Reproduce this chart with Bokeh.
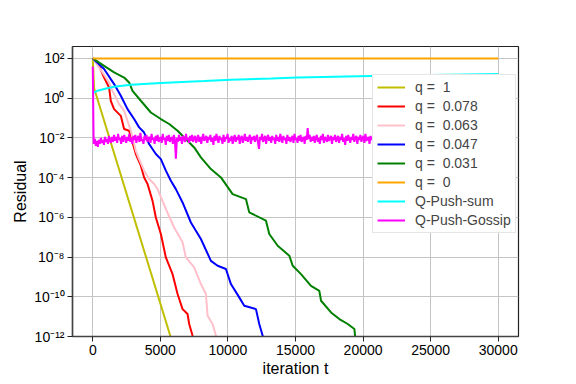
from bokeh.plotting import figure
from bokeh.models import Range1d, FixedTicker, CustomJSTickFormatter, Legend, LegendItem
from bokeh.embed import file_html
from bokeh.resources import INLINE

# ---------------- data ----------------
x_ticks = [0, 5000, 10000, 15000, 20000, 25000, 30000]
y_tick_exponents = [2, 0, -2, -4, -6, -8, -10, -12]

labels = ["q =  1", "q =  0.078", "q =  0.063", "q =  0.047", "q =  0.031",
          "q =  0", "Q-Push-sum", "Q-Push-Gossip"]
colors = ["#bfbf00", "#ff0000", "#ffc0cb", "#0000ff", "#008000",
          "#ffa500", "#00ffff", "#ff00ff"]

# q = 1
q1_t = [0, 100, 5750, 6000]
q1_log = [2.0, 0.5, -12.0, -12.55]

# q = 0.078
q078_t = [0, 467, 837, 1207, 1333, 1578, 2074, 2319, 2689, 3185, 3556, 3800,
          4052, 4422, 4667, 5037, 5407, 5904, 6274, 6644, 7015, 7133, 7385, 7600]
q078_log = [2.0, 1.63, 1.04, 0.54, -0.13, -0.55, -0.89, -1.55, -1.64, -2.81, -3.40, -3.99,
            -4.32, -5.17, -6.01, -6.84, -8.02, -8.86, -9.86, -10.62, -10.87, -11.37, -11.96, -12.4]

# q = 0.063
q063_t = [0, 719, 1207, 1459, 1948, 2319, 2570, 2815, 3185, 3430, 3800, 4170,
          4541, 4793, 5407, 6022, 6644, 6889, 7504, 8000, 8370, 8496, 8867, 9111, 9300]
q063_log = [2.0, 1.30, 0.79, 0.37, -0.30, -0.63, -1.14, -1.64, -2.65, -3.07, -3.65, -4.07,
            -4.32, -4.58, -5.58, -6.51, -7.26, -8.02, -8.52, -9.36, -9.86, -10.96, -11.37, -11.96, -12.4]

# q = 0.047
q047_t = [0, 837, 1333, 1578, 2074, 2570, 3059, 3430, 3800, 4170, 4667, 5037,
          5407, 5778, 6148, 6644, 7259, 8000, 8741, 9237, 9852, 10222, 10837,
          11207, 12074, 12319, 12570, 12750]
q047_log = [2.0, 1.47, 0.96, 0.71, 0.12, -0.55, -1.05, -1.47, -1.73, -2.31, -2.81, -3.07,
            -3.65, -4.16, -4.58, -5.25, -6.26, -7.09, -8.19, -8.44, -8.60, -9.36, -10.03,
            -10.45, -10.62, -11.37, -11.96, -12.4]

# q = 0.031
q031_t = [0, 837, 1578, 2319, 2689, 2941, 3556, 4296, 5037, 5652, 6274, 6763,
          7504, 8000, 8741, 9481, 10348, 11333, 11578, 12815, 13059, 13681, 14541,
          14793, 15407, 16148, 16763, 16889, 17630, 18244, 18867, 19356, 19407, 19450]
q031_log = [2.0, 1.63, 1.30, 1.04, 0.79, 0.37, -0.13, -0.72, -1.05, -1.30, -1.64, -1.98,
            -2.48, -2.98, -3.57, -3.99, -4.83, -5.08, -5.75, -6.17, -6.84, -7.43, -7.93,
            -8.44, -8.86, -9.45, -9.70, -10.20, -10.79, -11.12, -11.37, -11.62, -11.96, -12.4]

# q = 0
q0_t = [0, 30000]
q0_log = [2.0, 2.0]

# Q-Push-sum
sum_t = [0, 300, 837, 1578, 2815, 5037, 8244, 10222, 13200, 15160, 20600, 25000, 30000]
sum_log = [0.26, 0.36, 0.46, 0.58, 0.68, 0.76, 0.86, 0.93, 0.99, 1.04, 1.12, 1.17, 1.22]

# Q-Push-Gossip (noisy plateau around 1e-2), samples every 75 iterations
gossip_head_t = [0, 60]
gossip_head_log = [1.6, -2.0]
gossip_band_log = [
    -2.3, -2.05, -2.4, -2.15, -2.45, -2.1, -2.3, -2.0, -2.25, -2.1, -2.35, -1.95, -2.2, -2.05, -2.3, -1.9, -2.15, -2.25, -1.95, -2.2,
    -1.85, -2.15, -1.95, -2.25, -1.8, -2.1, -2.0, -2.3, -1.9, -2.2, -1.85, -2.05, -2.25, -1.95, -2.15, -1.8, -2.2, -2.0, -2.3, -1.9,
    -2.1, -1.85, -2.25, -2.0, -1.9, -2.2, -1.75, -2.15, -2.05, -2.3, -1.9, -2.1, -1.85, -2.2, -2.0, -1.95, -2.25, -1.8, -2.1, -2.0,
    -2.3, -1.9, -2.15, -1.85, -2.2, -2.05, -1.95, -2.25, -1.8, -2.1, -2.0, -2.35, -1.9, -2.15, -1.85, -2.2, -2.05, -1.95, -2.3, -1.85,
    -2.1, -3.05, -2.0, -2.2, -1.85, -2.15, -1.95, -2.3, -1.9, -2.05, -2.2, -1.8, -2.1, -2.0, -2.25, -1.9, -2.15, -1.85, -2.2, -2.0,
    -1.9, -2.25, -2.05, -1.85, -2.2, -1.95, -2.3, -2.0, -1.8, -2.15, -2.05, -1.9, -2.25, -1.95, -2.1, -1.85, -2.2, -2.0, -2.35, -1.9,
    -2.15, -1.8, -2.05, -2.25, -1.9, -2.1, -2.0, -2.3, -1.85, -2.2, -1.95, -2.05, -1.8, -2.25, -2.0, -2.15, -1.9, -2.3, -2.05, -1.85,
    -2.2, -1.95, -2.1, -1.85, -2.3, -2.0, -1.9, -2.25, -2.05, -1.8, -2.15, -1.95, -2.2, -2.0, -1.85, -2.3, -1.95, -2.1, -1.9, -2.2,
    -2.0, -1.85, -2.25, -2.55, -1.95, -2.1, -1.8, -2.2, -2.05, -1.9, -2.3, -2.0, -1.85, -2.15, -1.95, -2.25, -1.9, -2.1, -2.0, -2.3,
    -1.85, -2.15, -1.95, -2.2, -1.8, -2.05, -2.25, -1.9, -2.1, -2.0, -2.3, -1.85, -2.15, -1.95, -2.2, -2.05, -1.9, -2.25, -1.8, -2.1,
    -2.0, -2.25, -1.9, -2.15, -1.85, -2.2, -2.05, -1.95, -2.3, -1.9, -2.1, -1.5, -2.05, -1.85, -2.2, -1.95, -2.15, -1.9, -2.25, -2.0,
    -1.85, -2.2, -2.0, -2.3, -1.9, -2.1, -1.8, -2.25, -1.95, -2.05, -2.2, -1.85, -2.15, -2.0, -1.9, -2.3, -1.95, -2.1, -1.85, -2.2,
    -2.05, -1.9, -2.25, -1.95, -2.1, -1.8, -2.2, -2.0, -2.35, -1.9, -2.15, -1.85, -2.05, -2.25, -1.95, -2.1, -1.8, -2.2, -2.0, -1.9,
    -2.3, -1.95, -2.1, -1.85, -2.2, -2.0, -1.9, -2.25, -1.8, -2.15, -2.05, -1.95, -2.3, -1.9, -2.1, -2.0, -1.85, -2.2, -1.95, -2.15,
    -1.9, -2.25, -2.0, -1.85, -2.15, -2.05, -2.3, -1.9, -2.1, -1.95, -2.2, -1.8, -2.05, -2.25, -1.9, -2.1, -2.0, -1.85, -2.2, -1.95,
    -2.1, -1.9, -2.25, -2.0, -1.85, -2.2, -1.95, -2.3, -2.05, -1.9, -2.15, -1.85, -2.2, -2.0, -1.95, -2.25, -1.9, -2.1, -1.8, -2.05,
    -2.2, -1.95, -2.1, -1.85, -2.25, -2.0, -1.9, -2.15, -2.05, -2.3, -1.9, -2.1, -1.85, -2.2, -1.95, -2.05, -2.25, -1.9, -2.1, -2.0,
    -1.85, -2.2, -2.0, -2.3, -1.95, -2.1, -1.8, -2.15, -2.05, -1.9, -2.25, -1.95, -2.1, -1.85, -2.2, -2.0, -2.3, -1.9, -2.05, -2.15,
    -1.9, -2.25, -1.95, -2.1, -1.85, -2.2, -2.05, -1.9, -2.3, -2.0, -1.85, -2.15, -1.95, -2.25, -1.9, -2.1, -2.0, -2.2, -1.85, -2.05,
    -2.2, -1.9, -2.1, -1.95, -2.25, -1.85, -2.05, -2.2, -1.9, -2.15, -2.0, -1.8, -2.25, -1.95, -2.1, -2.0, -1.9, -2.2, -2.05, -1.95,
]
gossip_band_step = 75  # iteration spacing of the plotted samples

# ---------------- figure ----------------
FONT = "Liberation Sans"

p = figure(width=576, height=384, output_backend="svg", toolbar_location=None,
           y_axis_type="log",
           x_range=Range1d(-1500, 31500), y_range=Range1d(1e-12, 400),
           min_border_left=72, min_border_right=58, min_border_top=46, min_border_bottom=48)

p.background_fill_color = "white"
p.border_fill_color = "white"
p.outline_line_color = "#222222"
p.outline_line_width = 1.2

def to_vals(logs):
    return [10.0 ** v for v in logs]

gossip_t = gossip_head_t + [gossip_band_step * (i + 1) for i in range(len(gossip_band_log))]
gossip_log = gossip_head_log + gossip_band_log

series = [
    (q1_t, q1_log), (q078_t, q078_log), (q063_t, q063_log), (q047_t, q047_log),
    (q031_t, q031_log), (q0_t, q0_log), (sum_t, sum_log), (gossip_t, gossip_log),
]
widths = [2, 2, 2, 2, 2, 2, 2, 2]

items = []
for (tx, ly), lab, col, lw in zip(series, labels, colors, widths):
    r = p.line(tx, to_vals(ly), line_color=col, line_width=lw)
    items.append(LegendItem(label=lab, renderers=[r]))

# axes
p.xaxis.ticker = FixedTicker(ticks=x_ticks)
p.yaxis.ticker = FixedTicker(ticks=[10.0 ** e for e in y_tick_exponents])
p.yaxis.formatter = CustomJSTickFormatter(code="""
const e = Math.round(Math.log10(tick));
const sup = {'-':'\u207b','0':'\u2070','1':'\u00b9','2':'\u00b2','3':'\u00b3','4':'\u2074',
             '5':'\u2075','6':'\u2076','7':'\u2077','8':'\u2078','9':'\u2079'};
return '10' + String(e).split('').map(c => sup[c]).join('');
""")
p.xaxis.formatter = CustomJSTickFormatter(code="return String(Math.round(tick));")

for ax in (p.xaxis, p.yaxis):
    ax.axis_line_color = "#444444"
    ax.axis_line_width = 1.5
    ax.major_tick_line_color = "#222222"
    ax.major_tick_in = 0
    ax.major_tick_out = 5
    ax.minor_tick_line_color = None
    ax.major_label_text_font = FONT
    ax.major_label_text_font_size = "14px"
    ax.major_label_text_color = "black"
    ax.major_label_standoff = 3
    ax.axis_label_text_font = FONT
    ax.axis_label_text_font_size = "16px"
    ax.axis_label_text_font_style = "normal"
    ax.axis_label_text_color = "black"
    ax.axis_label_standoff = 2

p.xaxis.axis_label = "iteration t"
p.yaxis.axis_label = "Residual"

p.xgrid.grid_line_color = "#c4c4c4"
p.ygrid.grid_line_color = "#c4c4c4"
p.xgrid.grid_line_width = 1
p.ygrid.grid_line_width = 1

legend = Legend(items=items, location=(300, 103))
legend.label_text_font = FONT
legend.label_text_font_size = "14px"
legend.glyph_width = 28
legend.glyph_height = 14
legend.label_height = 14
legend.label_standoff = 10
legend.spacing = 3
legend.padding = 4
legend.margin = 0
legend.border_line_color = "#cccccc"
legend.border_line_width = 1
legend.background_fill_color = "white"
legend.background_fill_alpha = 1.0
p.add_layout(legend, "center")

open("out.html", "w").write(file_html(p, INLINE))
